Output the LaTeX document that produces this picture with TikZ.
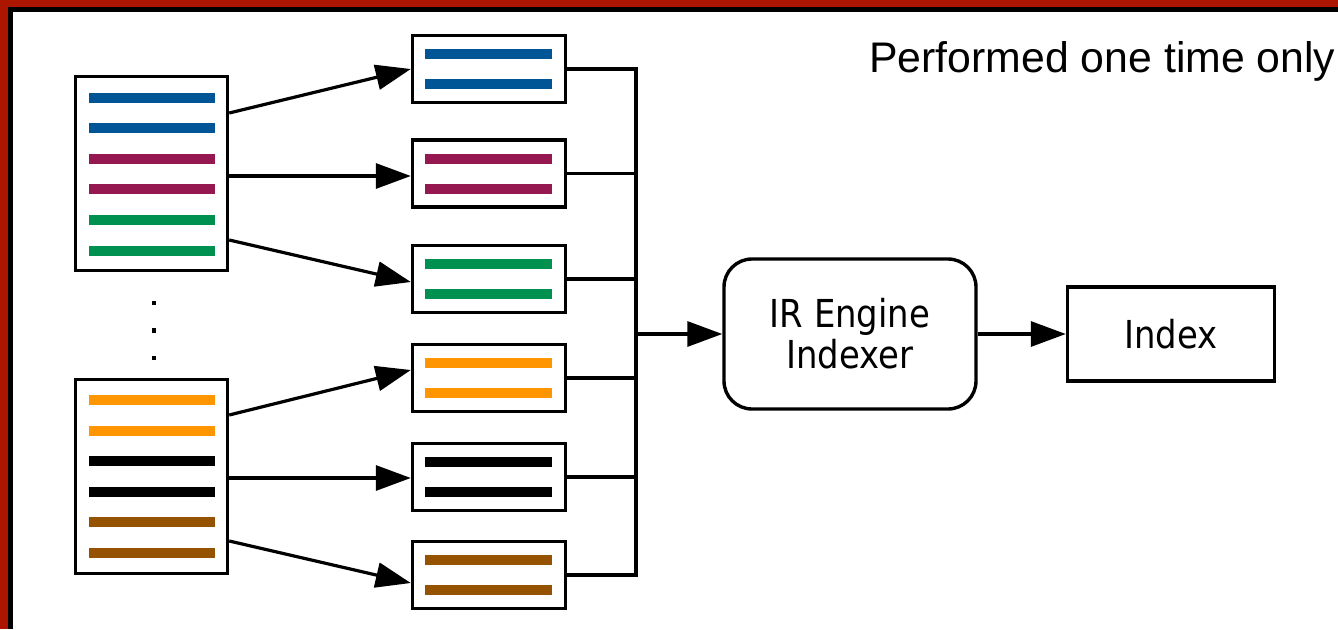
\documentclass[tikz,border=0pt]{standalone}
\usepackage{fontspec}
\setmainfont{Liberation Sans}
\newfontfamily\tahoma[FakeStretch=0.88]{DejaVu Sans}
\usetikzlibrary{arrows.meta}
\definecolor{cblue}{RGB}{0,85,150}
\definecolor{cmag}{RGB}{150,24,80}
\definecolor{cgreen}{RGB}{0,144,80}
\definecolor{corange}{RGB}{255,149,0}
\definecolor{cbrown}{RGB}{149,82,0}
\definecolor{framered}{RGB}{172,22,0}
\begin{document}
\begin{tikzpicture}[x=1pt,y=-1pt,
  docbox/.style={draw,line width=3.4pt,minimum width=152pt,minimum height=194pt,inner sep=0pt},
  partbox/.style={draw,line width=3.4pt,minimum width=153pt,minimum height=67pt,inner sep=0pt},
  conn/.style={line width=3.2pt},
  arr/.style={line width=3.2pt,-{Triangle[length=35pt,width=25pt]}},
  tfont/.style={font=\tahoma\fontsize{38.5}{41}\selectfont}]
\useasboundingbox (0,0) rectangle (1338,629);
% frame
\fill[framered] (0,0) rectangle (1338,7);
\fill[framered] (0,0) rectangle (8,629);
\fill[black] (8,7) rectangle (1338,12);
\fill[black] (8,7) rectangle (13,629);
% document boxes
\node[docbox] (doc1) at (151.5,173.5) {};
\node[docbox] (doc2) at (151.5,476.5) {};
\foreach \y/\c in {98/cblue,128/cblue,159/cmag,189/cmag,220/cgreen,251/cgreen,
                   400/corange,431/corange,461/black,492/black,522/cbrown,553/cbrown}
  \fill[\c] (89,\y-5) rectangle (215,\y+5);
% vertical dots
\foreach \y in {303,330.5,358}
  \fill (151.7,\y-2.3) rectangle (156.3,\y+2.3);
% part boxes
\foreach \i/\y/\c in {1/69/cblue,2/173.5/cmag,3/279/cgreen,4/378/corange,5/477/black,6/575/cbrown}{
  \node[partbox] (s\i) at (489,\y) {};
  \fill[\c] (425,\y-20) rectangle (552,\y-10);
  \fill[\c] (425,\y+10) rectangle (552,\y+20);
}
% arrows from documents to parts
\draw[arr] (doc1.east |- 0,113) -- (s1.west);
\draw[arr] (doc1.east |- 0,176) -- (s2.west |- 0,176);
\draw[arr] (doc1.east |- 0,240) -- ([yshift=-3pt]s3.west);
\draw[arr] (doc2.east |- 0,415) -- ([yshift=8pt]s4.west);
\draw[arr] (doc2.east |- 0,478) -- (s5.west |- 0,478);
\draw[arr] (doc2.east |- 0,541) -- ([yshift=-8pt]s6.west);
% bus
\coordinate (bt) at (636,69);
\coordinate (bb) at (636,575);
\draw[conn,line join=miter] (s1.east) -- (bt) -- (bb) -- (s6.east);
\foreach \i in {2,3,4,5}
  \draw[conn] (s\i.east) -- (s\i.east -| bt);
% indexer and index
\node[draw,line width=3.4pt,rounded corners=28pt,minimum width=252pt,minimum height=150pt,
      align=center,tfont] (ir) at (850,334) {IR Engine\\Indexer};
\node[draw,line width=3.4pt,minimum width=207pt,minimum height=94pt,tfont] (idx) at (1171,334) {Index};
\draw[arr] (bt |- ir.west) -- (ir.west);
\draw[arr] (ir.east) -- (idx.west);
% label
\node[anchor=base west,inner sep=0pt,font=\fontsize{42.8}{50}\selectfont] (perf) at (869,72.5) {Performed one time only};
\end{tikzpicture}
\end{document}
